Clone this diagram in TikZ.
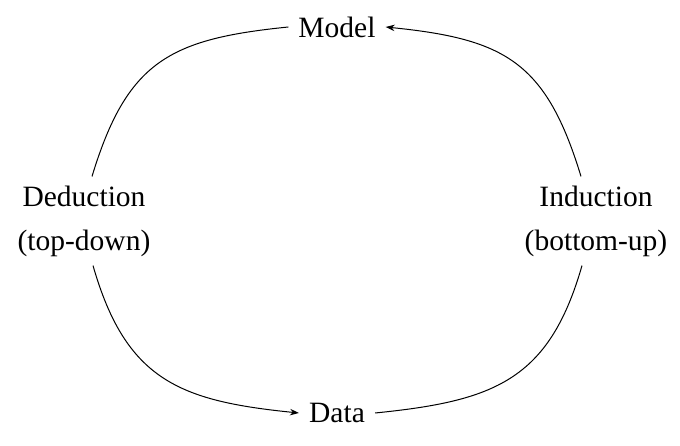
\documentclass[tikz,border=0pt]{standalone}
\usepackage{fontspec}
\setmainfont{Liberation Serif}
\usetikzlibrary{arrows.meta}
\begin{document}
\begin{tikzpicture}[x=1pt,y=-1pt,
  lbl/.style={font=\fontsize{29.5}{44}\selectfont, inner xsep=10pt, inner ysep=9pt, align=center},
  arc/.style={line width=1pt},
  tip/.style={-{Stealth[length=9pt,width=6.5pt]}}]
\useasboundingbox (0,0) rectangle (680,446);
\node[lbl] (model) at (337,27) {Model};
\node[lbl] (data) at (337,413) {Data};
\node[lbl] (ded) at (84,221) {Deduction\\(top-down)};
\node[lbl] (ind) at (596,221) {Induction\\(bottom-up)};
\draw[arc] (model.west) .. controls +(-119,12) and +(35,-115) .. ([xshift=8pt]ded.north);
\draw[arc,tip] ([xshift=-15pt]ind.north) .. controls +(-35,-115) and +(119,12) .. (model.east);
\draw[arc,tip] ([xshift=9pt]ded.south) .. controls +(33,115) and +(-119,-12) .. (data.west);
\draw[arc] (data.east) .. controls +(119,-12) and +(-33,115) .. ([xshift=-14pt]ind.south);
\end{tikzpicture}
\end{document}
